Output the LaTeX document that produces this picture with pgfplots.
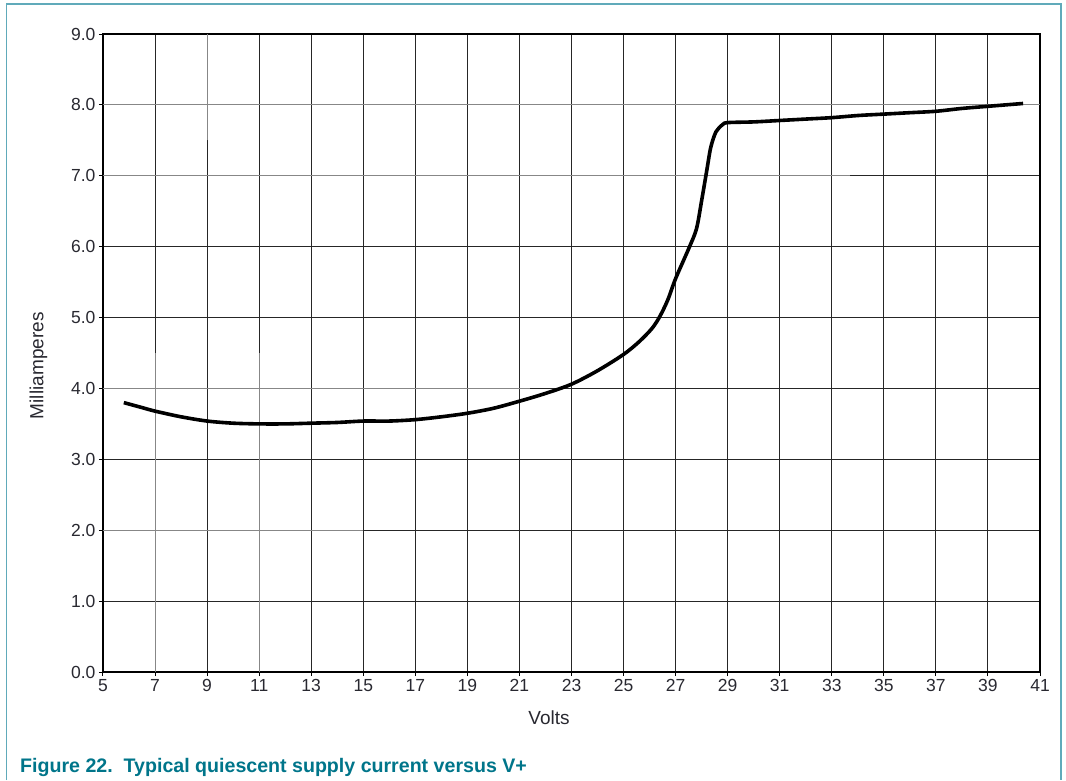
\documentclass[border=0pt]{standalone}
\usepackage{fontspec}
\setmainfont{Liberation Sans}
\usepackage{pgfplots}
\pgfplotsset{compat=1.18}

\definecolor{frameteal}{RGB}{96,170,186}
\definecolor{capteal}{RGB}{0,117,138}
\definecolor{ticktext}{RGB}{40,40,48}
\definecolor{lightgrid}{RGB}{135,135,135}

\begin{document}
\begin{tikzpicture}[x=1pt,y=1pt]
\useasboundingbox (0,0) rectangle (1066,780);
\draw[frameteal, line width=1.6pt] (6.5,0) -- (6.5,776) -- (1061,776) -- (1061,0);

\begin{axis}[
at={(103pt,108pt)}, anchor=south west,
scale only axis, width=937pt, height=638pt,
xmin=5, xmax=41, ymin=0, ymax=9,
xtick={5,7,...,41}, ytick={0,1,...,9},
yticklabel style={/pgf/number format/.cd, fixed, fixed zerofill, precision=1},
/pgf/number format/assume math mode=true,
grid=major,
grid style={black!85, line width=1pt},
axis line style={black, line width=1.2pt},
tick align=outside, tick pos=left,
major tick length=4pt,
tick style={black, line width=1pt},
ticklabel style={font=\fontsize{17.5}{20}\selectfont, text=ticktext},
xticklabel style={text height=12pt, text depth=0pt},
xlabel={Volts}, ylabel={Milliamperes},
label style={font=\fontsize{19}{22}\selectfont, text=ticktext},
xlabel style={at={(rel axis cs:0.476,-0.072)}, anchor=center},
ylabel style={at={(rel axis cs:-0.069,0.48)}, anchor=center},
]
% faded grid lines of the scanned original
\draw[lightgrid, line width=1pt] (axis cs:5,8) -- (axis cs:41,8);
\draw[lightgrid, line width=1pt] (axis cs:5,7) -- (axis cs:33.7,7);
\draw[lightgrid, line width=1pt] (axis cs:5,4) -- (axis cs:21.4,4);
\draw[lightgrid, line width=1pt] (axis cs:5,2) -- (axis cs:15,2);
\draw[lightgrid, line width=1pt] (axis cs:7,0) -- (axis cs:7,4.5);
\draw[lightgrid, line width=1pt] (axis cs:11,0) -- (axis cs:11,4.5);
\draw[lightgrid, line width=1pt] (axis cs:9,7.5) -- (axis cs:9,9);

\addplot [black, line width=3.6pt, smooth, tension=0.5] table {
5.8 3.80
6.5 3.73
7 3.68
8 3.60
9 3.54
10 3.51
11 3.50
12 3.50
13 3.51
14 3.52
15 3.54
16 3.54
17 3.56
18 3.60
19 3.65
20 3.72
21 3.82
22 3.93
23 4.06
24 4.25
25 4.48
25.6 4.66
26.1 4.85
26.4 5.02
26.7 5.25
27.0 5.55
27.5 5.97
27.8 6.25
28.0 6.65
28.2 7.08
28.35 7.40
28.55 7.62
28.8 7.72
29.0 7.75
30 7.76
31 7.78
32 7.80
33 7.82
34 7.85
35 7.87
36 7.89
37 7.91
38 7.95
39 7.98
40.35 8.02
};
\end{axis}

\node[anchor=base west, font=\bfseries\fontsize{19.6}{24}\selectfont, text=capteal, inner sep=0pt]
  at (20,8) {Figure 22.\ \ Typical quiescent supply current versus V+};
\end{tikzpicture}
\end{document}
